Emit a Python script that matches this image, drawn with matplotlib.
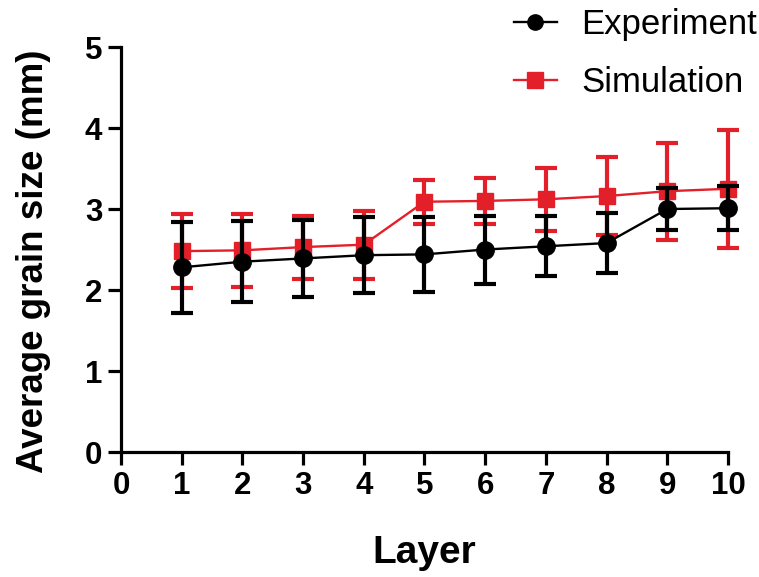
import matplotlib
matplotlib.use("Agg")
import matplotlib.pyplot as plt
from matplotlib.lines import Line2D

layers = [1, 2, 3, 4, 5, 6, 7, 8, 9, 10]
exp_mean = [2.28, 2.35, 2.39, 2.43, 2.44, 2.50, 2.54, 2.58, 3.00, 3.01]
exp_sd = [0.56, 0.50, 0.47, 0.47, 0.46, 0.42, 0.37, 0.37, 0.26, 0.27]
sim_mean = [2.48, 2.49, 2.53, 2.56, 3.09, 3.10, 3.12, 3.16, 3.22, 3.25]
sim_sd = [0.46, 0.45, 0.39, 0.42, 0.27, 0.28, 0.39, 0.48, 0.60, 0.73]
xticks = list(range(0, 11))
yticks = list(range(0, 6))

plt.rcParams['font.family'] = ['Liberation Sans', 'DejaVu Sans']

fig = plt.figure(figsize=(7.59, 5.77), dpi=100)
ax = fig.add_axes([0.1594, 0.2166, 0.7997, 0.7019])

red = '#e3202a'
ax.errorbar(layers, sim_mean, yerr=sim_sd, color=red, marker='s', markersize=11,
            linewidth=1.7, elinewidth=3, capsize=8, capthick=3, zorder=3,
            clip_on=False)
ax.errorbar(layers, exp_mean, yerr=exp_sd, color='black', marker='o', markersize=12.5,
            linewidth=1.7, elinewidth=3, capsize=8, capthick=3, zorder=4,
            clip_on=False)

ax.set_xlim(0, 10)
ax.set_ylim(0, 5)
ax.set_xticks(xticks)
ax.set_yticks(yticks)
for s in ['top', 'right']:
    ax.spines[s].set_visible(False)
for s in ['left', 'bottom']:
    ax.spines[s].set_linewidth(2.3)
ax.tick_params(axis='both', direction='out', length=9.5, width=2.3, labelsize=22.5, pad=4)
for lbl in ax.get_xticklabels() + ax.get_yticklabels():
    lbl.set_fontweight('bold')

ax.set_xlabel('Layer', fontsize=28, fontweight='bold')
ax.set_ylabel('Average grain size (mm)', fontsize=26.5, fontweight='bold')
ax.xaxis.set_label_coords(0.5, -0.205)
ax.yaxis.set_label_coords(-0.115, 0.472)

handles = [
    Line2D([], [], color='black', marker='o', markersize=11, linewidth=1.7),
    Line2D([], [], color=red, marker='s', markersize=11, linewidth=1.7),
]
leg = fig.legend(handles, ['Experiment', 'Simulation'], loc='upper right',
                 bbox_to_anchor=(757 / 759, 1 - 8 / 577), frameon=False, fontsize=25,
                 handlelength=1.25, labelspacing=0.72, handletextpad=0.7,
                 borderpad=0, borderaxespad=0)

fig.savefig('out.png', dpi=100)
